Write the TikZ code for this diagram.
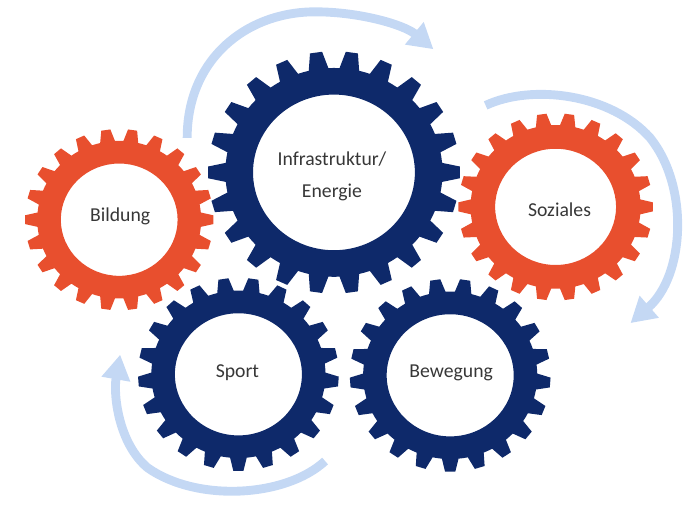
\documentclass[tikz,border=0pt]{standalone}
\usepackage{fontspec}
\setmainfont{Carlito}
\usetikzlibrary{arrows.meta}

\definecolor{gearorange}{RGB}{232,79,46}
\definecolor{gearnavy}{RGB}{14,41,106}
\definecolor{flowblue}{RGB}{196,216,244}
\definecolor{labelgray}{RGB}{55,55,55}

% gear: centre x, centre y, teeth, tip r, root r, hole r, colour, turn
\newcommand{\gear}[8]{%
  \begin{scope}[shift={(#1,#2)},xscale=1.04]
    \fill[#7,even odd rule] (#8:#5) \foreach \i in {1,...,#3}{
      -- ({#8+(\i-0.82)*360/#3}:#5) -- ({#8+(\i-0.67)*360/#3}:#4)
      -- ({#8+(\i-0.33)*360/#3}:#4) -- ({#8+(\i-0.18)*360/#3}:#5)
      -- ({#8+\i*360/#3}:#5)} -- cycle
      (0,0) circle[radius=#6];
  \end{scope}}

\tikzset{every picture/.style={line width=0.75pt}}
\tikzset{
  flow/.style={draw=flowblue,line width=6.75pt,-{Triangle[width=21pt,length=19pt]}},
  label/.style={text=labelgray,font=\fontsize{15}{24}\selectfont,align=center}
}

\begin{document}
\begin{tikzpicture}[x=0.75pt,y=0.75pt,yscale=-1,xscale=1]
	\path (0,0) rectangle (694,514); %picture frame

	%Curve Lines [top]
	\draw [flow] (190,140) .. controls (190,60) and (250,12) .. (320,12) .. controls (365,12) and (410,25) .. (440,50) ;
	%Curve Lines [right]
	\draw [flow] (493,107) .. controls (540,85) and (620,95) .. (660,140) .. controls (700,190) and (695,280) .. (640,328) ;
	%Curve Lines [bottom]
	\draw [flow] (330,468) .. controls (290,505) and (200,510) .. (150,475) .. controls (120,450) and (115,400) .. (122,360) ;

	%Shape: Gear [Bildung]
	\gear{121}{223}{22}{92}{80}{57}{gearorange}{-90}
	%Shape: Gear [Infrastruktur]
	\gear{339}{175}{22}{123}{106}{79}{gearnavy}{-90}
	%Shape: Gear [Soziales]
	\gear{564}{210}{22}{95}{83}{59}{gearorange}{-90}
	%Shape: Gear [Sport]
	\gear{242}{380}{21}{98}{85}{62}{gearnavy}{-90}
	%Shape: Gear [Bewegung]
	\gear{457}{381}{21}{98}{85}{62}{gearnavy}{-90}

	% Text Node
	\node [label] (bildung) at (122,220) {Bildung};
	% Text Node
	\node [label] (infra) at (337,179) {Infrastruktur/\\Energie};
	% Text Node
	\node [label] (soziales) at (568,213) {Soziales};
	% Text Node
	\node [label] (sport) at (241,378) {Sport};
	% Text Node
	\node [label] (bewegung) at (458,379) {Bewegung};

\end{tikzpicture}
\end{document}
